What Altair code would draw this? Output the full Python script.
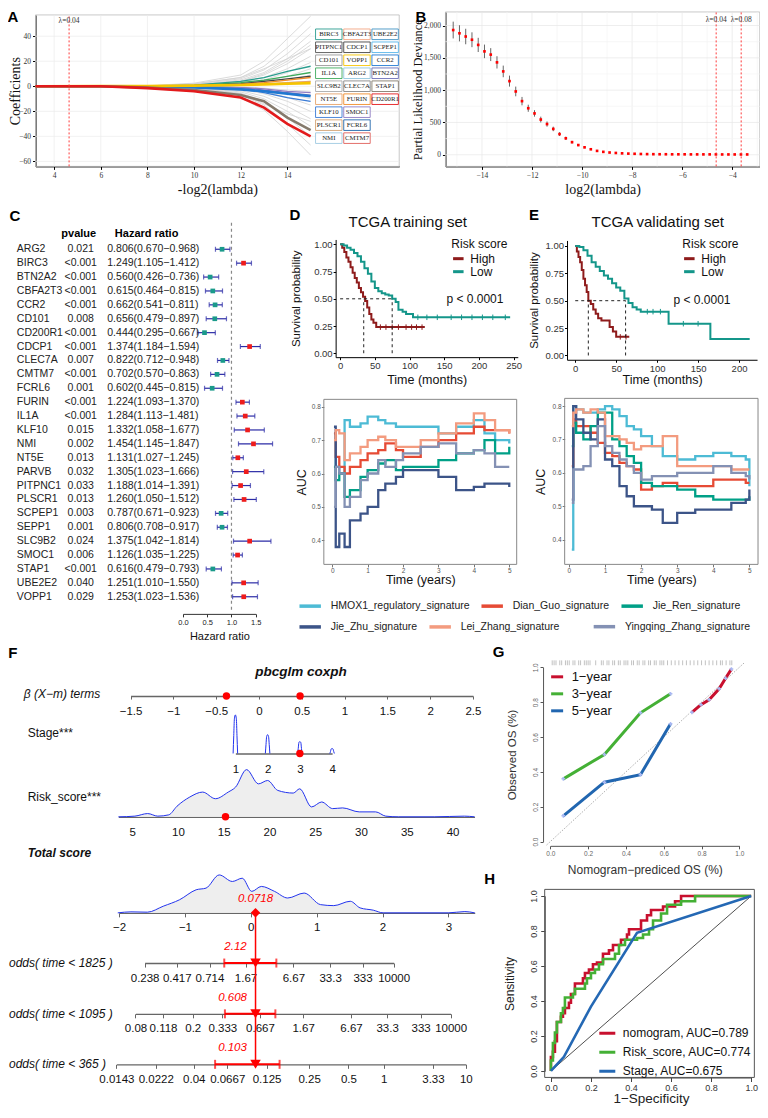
import json
import altair as alt
import pandas as pd

W, H = 752, 1101
SERIF = "Liberation Serif"
SANS = "Liberation Sans"


def X(r):
    return round((r - 2) * 0.983, 2)


def Y(r):
    return round((r - 3) * 0.99, 2)


ONE = pd.DataFrame({"k": [0]})


def sx(dom, a, b, **kw):
    return alt.Scale(domain=dom, range=[X(a), X(b)], nice=False, zero=False, **kw)


def sy(dom, bottom, top, **kw):
    return alt.Scale(domain=dom, range=[Y(bottom), Y(top)], nice=False, zero=False, **kw)


BASE_AX = dict(grid=False, labelFlush=False, labelOverlap=False, domainColor="black",
               tickColor="black", labelColor="#222222", titleColor="#111111",
               titleFontWeight="normal", labelFont=SANS, titleFont=SANS)


def ax_b(yref, title_ref=None, **kw):
    d = dict(BASE_AX)
    d.update(orient="bottom", offset=round(Y(yref) - H, 2))
    if title_ref is not None:
        d.update(titleY=round(Y(title_ref) - Y(yref), 2), titleBaseline="middle")
    d.update(kw)
    return alt.Axis(**d)


def ax_l(xref, title_ref=None, **kw):
    d = dict(BASE_AX)
    d.update(orient="left", offset=round(-X(xref), 2))
    if title_ref is not None:
        d.update(titleX=round(X(title_ref) - X(xref), 2), titleBaseline="middle")
    d.update(kw)
    return alt.Axis(**d)


def note(text, xr, yr, size=11, align="center", baseline="middle", **props):
    return alt.Chart(pd.DataFrame({"t": [text]})).mark_text(
        fontSize=size, align=align, baseline=baseline, **props).encode(
        x=alt.value(X(xr)), y=alt.value(Y(yr)), text="t:N")


# ======================= DATA =======================
# ---- A: LASSO coefficient paths ----
A_knots = [3.2, 6, 8, 10, 12, 13, 14, 15]
A_grey = [
    [0, 0, 0.4, 2.5, 9, 20, 38, 56],
    [0, 0, 0.3, 2, 7, 16, 31, 48],
    [0, 0, 0.2, 1.5, 6, 13, 26, 42],
    [0, 0, 0.2, 1.2, 5, 11, 22, 36],
    [0, 0, 0.1, 1, 4, 9, 18, 30],
    [0, 0, 0.1, 0.8, 3, 7, 14, 24],
    [0, 0, 0.1, 0.6, 2.5, 5, 11, 19],
    [0, 0, 0, 0.4, 1.8, 4, 8, 14],
    [0, 0, 0, 0.3, 1.2, 3, 5, 9],
    [0, 0, 0, 0.2, 0.6, 1.5, 3, 4],
    [0, 0, 0, -0.2, -0.6, -1.5, -3, -4],
    [0, 0, 0, -0.3, -1.2, -3, -6, -10],
    [0, 0, 0, -0.4, -1.8, -4, -9, -15],
    [0, 0, -0.1, -0.6, -2.5, -6, -12, -20],
    [0, 0, -0.1, -0.8, -3.5, -8, -16, -26],
    [0, 0, -0.2, -1, -4.5, -10, -20, -32],
    [0, 0, -0.2, -1.3, -5.5, -12, -25, -40],
    [0, 0, -0.3, -1.8, -7, -15, -30, -47],
    [0, 0, -0.4, -2.5, -9, -19, -36, -55],
    [0, 0, 0.2, 1.8, 7, 14, 22, 30],
    [0, 0, -0.2, -1.5, -6, -14, -22, -28],
    [0, 0, 0.1, 0.9, 4, 10, 20, 33],
]
A_col_genes = ["BIRC3", "IL1A", "CDCP1", "FURIN", "NT5E", "BTN2A2", "SMOC1", "KLF10",
               "CCR2", "VOPP1", "STAP1", "CD200R1"]
A_col_vals = [
    [0, 0, 0.2, 1, 4, 7, 12, 16],
    [0, 0, 0.1, 0.8, 3, 5, 8, 11],
    [0, 0, 0.1, 0.5, 2, 4, 6, 8],
    [0, 0, 0, 0.4, 1.5, 3, 5, 7],
    [0, 0, 0, 0.3, 1, 2, 3, 4],
    [0, 0, 0, -0.3, -1, -3, -5, -7],
    [0, 0, 0, -0.2, -1, -2, -4, -5],
    [0, 0, -0.1, -0.5, -2, -5, -9, -12],
    [0, -0.1, -0.3, -1, -2.5, -4, -6, -8],
    [0, 0.1, 0.2, 0.5, 1, 1.5, 2, 2.5],
    [0, 0, -1, -3, -7, -12, -25, -35],
    [0, 0, -1.5, -4, -9, -17, -30, -40],
]
A_col_colors = ["#2A9D8F", "#3DAA5C", "#444444", "#F08C2A", "#E5A36B", "#6C6FB8",
                "#8E7CC3", "#3A7BD5", "#1F78D1", "#F5C400", "#857A6C", "#E31A1C"]
A_thick = ["CCR2", "VOPP1", "STAP1", "CD200R1"]
A_lab_names = ["BIRC3", "CBFA2T3", "UBE2E2", "PITPNC1", "CDCP1", "SCPEP1", "CD101", "VOPP1",
               "CCR2", "IL1A", "ARG2", "BTN2A2", "SLC9B2", "CLEC7A", "STAP1", "NT5E", "FURIN",
               "CD200R1", "KLF10", "SMOC1", "PLSCR1", "FCRL6", "NMI", "CMTM7"]
A_lab_row = [1, 1, 1, 2, 2, 2, 3, 3, 3, 4, 4, 4, 5, 5, 5, 6, 6, 6, 7, 7, 8, 8, 9, 9]
A_lab_col = [1, 2, 3, 1, 2, 3, 1, 2, 3, 1, 2, 3, 1, 2, 3, 1, 2, 3, 1, 2, 1, 2, 1, 2]
A_lab_colors = ["#2A9D8F", "#F4A582", "#4393C3", "#555555", "#444444", "#56B4E9", "#999999",
                "#F5C400", "#1F78D1", "#3DAA5C", "#92C5DE", "#6C6FB8", "#AAAAAA", "#888888",
                "#857A6C", "#E5A36B", "#F08C2A", "#E31A1C", "#3A7BD5", "#8E7CC3", "#D4A373",
                "#2166AC", "#9ECAE1", "#E0605A"]

# ---- B: partial likelihood deviance ----
B_x = [-15.15, -14.9, -14.65, -14.4, -14.15, -13.9, -13.65, -13.4, -13.15, -12.9, -12.65, -12.4,
       -12.15, -11.9, -11.65, -11.4, -11.15, -10.9, -10.65, -10.4, -10.15, -9.9, -9.65, -9.4,
       -9.15, -8.9, -8.65, -8.4, -8.15, -7.9, -7.65, -7.4, -7.15, -6.9, -6.65, -6.4, -6.15, -5.9,
       -5.65, -5.4, -5.15, -4.9, -4.65, -4.4, -4.15, -3.9, -3.65, -3.4]
B_dev = [1930, 1880, 1830, 1780, 1700, 1600, 1550, 1430, 1290, 1140, 980, 830, 720, 640, 545,
         475, 400, 320, 255, 195, 150, 115, 85, 60, 45, 35, 28, 22, 18, 15, 12, 10, 9, 8, 8, 7,
         7, 7, 6, 6, 6, 6, 6, 5, 5, 5, 5, 5]
B_se = [130, 125, 120, 115, 110, 105, 100, 95, 90, 85, 75, 65, 55, 50, 45, 40, 35, 30, 25, 20,
        16, 12, 9, 7, 5, 4, 3, 3, 2, 2, 2, 1, 1, 1, 1, 1, 1, 1, 1, 1, 1, 1, 1, 1, 1, 1, 1, 1]
B_lambda = [-4.64, -3.64]
B_lambda_lab = ["λ=0.04", "λ=0.08"]

# ---- C: forest plot ----
C_genes = ["ARG2", "BIRC3", "BTN2A2", "CBFA2T3", "CCR2", "CD101", "CD200R1", "CDCP1", "CLEC7A",
           "CMTM7", "FCRL6", "FURIN", "IL1A", "KLF10", "NMI", "NT5E", "PARVB", "PITPNC1",
           "PLSCR1", "SCPEP1", "SEPP1", "SLC9B2", "SMOC1", "STAP1", "UBE2E2", "VOPP1"]
C_p = ["0.021", "<0.001", "<0.001", "<0.001", "<0.001", "0.008", "<0.001", "<0.001", "0.007",
       "<0.001", "0.001", "<0.001", "<0.001", "0.015", "0.002", "0.013", "0.032", "0.033",
       "0.013", "0.003", "0.001", "0.024", "0.006", "<0.001", "0.040", "0.029"]
C_hr = [0.806, 1.249, 0.560, 0.615, 0.662, 0.656, 0.444, 1.374, 0.822, 0.702, 0.602, 1.224,
        1.284, 1.332, 1.454, 1.131, 1.305, 1.188, 1.260, 0.787, 0.806, 1.375, 1.126, 0.616,
        1.251, 1.253]
C_lo = [0.670, 1.105, 0.426, 0.464, 0.541, 0.479, 0.295, 1.184, 0.712, 0.570, 0.445, 1.093,
        1.113, 1.058, 1.145, 1.027, 1.023, 1.014, 1.050, 0.671, 0.708, 1.042, 1.035, 0.479,
        1.010, 1.023]
C_hi = [0.968, 1.412, 0.736, 0.815, 0.811, 0.897, 0.667, 1.594, 0.948, 0.863, 0.815, 1.370,
        1.481, 1.677, 1.847, 1.245, 1.666, 1.391, 1.512, 0.923, 0.917, 1.814, 1.225, 0.793,
        1.550, 1.536]

# ---- D / E: Kaplan-Meier ----
D_hi_t = [0, 3, 6, 9, 12, 15, 18, 21, 24, 27, 30, 33, 36, 39, 42, 45, 48, 52, 122]
D_hi_s = [1.0, 0.97, 0.93, 0.88, 0.84, 0.79, 0.74, 0.69, 0.65, 0.60, 0.56, 0.52, 0.48, 0.42,
          0.36, 0.31, 0.28, 0.24, 0.24]
D_lo_t = [0, 5, 10, 15, 20, 25, 30, 35, 40, 45, 50, 55, 60, 65, 70, 75, 80, 84, 90, 95, 105, 245]
D_lo_s = [1.0, 0.99, 0.97, 0.95, 0.92, 0.89, 0.84, 0.78, 0.73, 0.66, 0.60, 0.57, 0.55, 0.54,
          0.53, 0.50, 0.47, 0.40, 0.38, 0.36, 0.33, 0.33]
D_cens_hi = [58, 66, 75, 84, 95, 103, 110, 118]
D_cens_lo = [112, 125, 140, 160, 175, 190, 205, 220, 238]
D_median = [34, 75]
E_hi_t = [0, 2, 4, 6, 8, 10, 12, 14, 16, 19, 22, 25, 28, 32, 38, 42, 46, 50, 66]
E_hi_s = [1.0, 0.95, 0.90, 0.85, 0.78, 0.70, 0.64, 0.58, 0.50, 0.47, 0.42, 0.38, 0.34, 0.32,
          0.32, 0.26, 0.22, 0.17, 0.17]
E_lo_t = [0, 5, 10, 15, 20, 25, 30, 35, 40, 45, 50, 55, 60, 65, 70, 75, 80, 114, 165, 213]
E_lo_s = [1.0, 0.99, 0.96, 0.91, 0.85, 0.81, 0.77, 0.73, 0.70, 0.66, 0.62, 0.59, 0.52, 0.48,
          0.44, 0.42, 0.40, 0.29, 0.15, 0.15]
E_cens_hi = [55, 62]
E_cens_lo = [88, 95, 104, 132, 150]
E_median = [16, 61.5]

# ---- D / E: time-dependent AUC ----
SIGS = ["HMOX1_regulatory_signature", "Dian_Guo_signature", "Jie_Ren_signature",
        "Jie_Zhu_signature", "Lei_Zhang_signature", "Yingqing_Zhang_signature"]
SIG_COLORS = ["#4DBBD5", "#E64B35", "#00A087", "#3C5488", "#F39B7F", "#8491B4"]
DA_t = [0.05, 0.1, 0.2, 0.35, 0.5, 0.8, 1.0, 1.3, 1.5, 1.8, 2.0, 2.5, 3.0, 3.5, 4.0, 4.3, 4.6, 5.0]
DA_auc = [
    [0.72, 0.62, 0.60, 0.76, 0.74, 0.75, 0.77, 0.76, 0.75, 0.74, 0.74, 0.74, 0.72, 0.74, 0.76, 0.72, 0.70, 0.69],
    [0.72, 0.65, 0.62, 0.60, 0.62, 0.64, 0.66, 0.67, 0.69, 0.67, 0.65, 0.68, 0.70, 0.72, 0.74, 0.73, 0.73, 0.72],
    [0.62, 0.58, 0.60, 0.53, 0.55, 0.59, 0.61, 0.63, 0.64, 0.61, 0.62, 0.62, 0.64, 0.66, 0.67, 0.70, 0.66, 0.68],
    [0.74, 0.38, 0.42, 0.38, 0.46, 0.48, 0.50, 0.55, 0.57, 0.59, 0.61, 0.61, 0.59, 0.55, 0.56, 0.57, 0.57, 0.56],
    [0.70, 0.73, 0.72, 0.64, 0.66, 0.68, 0.70, 0.71, 0.70, 0.68, 0.68, 0.70, 0.72, 0.75, 0.78, 0.76, 0.73, 0.72],
    [0.50, 0.62, 0.60, 0.50, 0.53, 0.58, 0.60, 0.64, 0.62, 0.64, 0.66, 0.68, 0.69, 0.66, 0.67, 0.66, 0.62, 0.62],
]
EA_t = [0.08, 0.12, 0.2, 0.4, 0.6, 0.8, 1.0, 1.2, 1.4, 1.6, 1.8, 2.0, 2.3, 2.6, 3.0, 3.5, 4.0, 4.5, 4.9, 5.0]
EA_auc = [
    [0.37, 0.80, 0.79, 0.78, 0.78, 0.79, 0.80, 0.79, 0.77, 0.74, 0.73, 0.71, 0.68, 0.65, 0.64, 0.65, 0.66, 0.65, 0.64, 0.56],
    [0.62, 0.76, 0.74, 0.74, 0.72, 0.69, 0.66, 0.65, 0.63, 0.62, 0.61, 0.55, 0.56, 0.57, 0.56, 0.56, 0.58, 0.58, 0.57, 0.57],
    [0.68, 0.75, 0.72, 0.70, 0.74, 0.78, 0.78, 0.70, 0.68, 0.65, 0.63, 0.57, 0.56, 0.56, 0.55, 0.53, 0.52, 0.52, 0.52, 0.53],
    [0.52, 0.80, 0.76, 0.72, 0.70, 0.76, 0.64, 0.62, 0.56, 0.53, 0.50, 0.50, 0.49, 0.45, 0.48, 0.49, 0.49, 0.51, 0.52, 0.55],
    [0.74, 0.78, 0.79, 0.78, 0.79, 0.78, 0.71, 0.71, 0.70, 0.69, 0.67, 0.68, 0.68, 0.71, 0.62, 0.62, 0.62, 0.61, 0.61, 0.61],
    [0.51, 0.61, 0.61, 0.62, 0.68, 0.74, 0.68, 0.66, 0.64, 0.62, 0.60, 0.58, 0.59, 0.59, 0.60, 0.60, 0.62, 0.60, 0.59, 0.58],
]

# ---- F: nomogram ----
F_beta_ticks = [-1.5, -1, -0.5, 0, 0.5, 1, 1.5, 2, 2.5]
F_beta_pts = [-0.38, 0.48]
F_hump_stage = [1] * 7 + [2] * 7 + [3] * 7 + [4] * 7
F_hump_x = [0.93, 0.95, 0.97, 1.0, 1.03, 1.05, 1.07, 1.93, 1.95, 1.97, 2.0, 2.03, 2.05, 2.07,
            2.93, 2.95, 2.97, 3.0, 3.03, 3.05, 3.07, 3.93, 3.95, 3.97, 4.0, 4.03, 4.05, 4.07]
F_hump_h = [0, 18, 35, 39, 35, 18, 0, 0, 9, 17, 19, 17, 9, 0, 0, 5, 11, 12, 11, 5, 0,
            0, 2, 4.5, 5, 4.5, 2, 0]
F_stage_pt = 3
F_risk_x = [3.5, 5.3, 6.7, 7.8, 9.0, 9.9, 11.3, 12.7, 14.1, 15.5, 16.3, 17.5, 18.8, 19.8, 20.9,
            22.6, 23.3, 24.6, 25.7, 26.9, 28.0, 29.8, 31.6, 32.7, 34.1, 38.0, 41.3, 42.4]
F_risk_h = [0, 0.7, 3.3, 0.7, 2, 10.7, 20, 25, 18.3, 25, 30, 47.7, 33.3, 36.7, 26.7, 24, 28.3,
            10, 15, 8.3, 9, 5, 5, 0.7, 0, 0, 0.7, 0]
F_risk_pt = 15.2
F_tot_x = [-2.02, -1.82, -1.57, -1.33, -1.08, -0.83, -0.68, -0.48, -0.28, -0.13, 0.015, 0.16,
           0.36, 0.56, 0.81, 1.06, 1.26, 1.51, 1.66, 1.86, 2.01, 3.0, 3.25, 3.4]
F_tot_h = [0, 1, 0.7, 6.7, 13.3, 23.3, 25, 38.3, 31.7, 35, 21.7, 26.7, 21.7, 15, 20, 8.3, 7.3,
           11.7, 5, 2.7, 0, 0, 1.3, 0]
F_point = 0.0718
F_odds_names = ["odds( time < 1825 )", "odds( time < 1095 )", "odds( time < 365 )"]
F_odds_pos = [
    [-1.612, -1.124, -0.627, -0.08, 0.646, 1.204, 1.697, 2.169],
    [-1.751, -1.333, -0.881, -0.433, 0.139, 0.795, 1.522, 2.07, 2.578, 3.034],
    [-2.04, -1.443, -0.866, -0.358, 0.239, 0.885, 1.482, 2.019, 2.766, 3.264],
]
F_odds_lab = [
    ["0.238", "0.417", "0.714", "1.67", "6.67", "33.3", "333", "10000"],
    ["0.08", "0.118", "0.2", "0.333", "0.667", "1.67", "6.67", "33.3", "333", "10000"],
    ["0.0143", "0.0222", "0.04", "0.0667", "0.125", "0.25", "0.5", "1", "3.33", "10"],
]
F_ci_lo = [-0.403, -0.393, -0.542]
F_ci_hi = [0.388, 0.373, 0.437]
F_odds_val = ["2.12", "0.608", "0.103"]

# ---- G: calibration ----
G_names = ["1−year", "3−year", "5−year"]
G_x = [[0.749, 0.797, 0.84, 0.893, 0.927, 0.958],
       [0.069, 0.286, 0.477, 0.636],
       [0.069, 0.286, 0.477, 0.636]]
G_y = [[0.742, 0.786, 0.814, 0.877, 0.9375, 0.99],
       [0.36, 0.50, 0.739, 0.848],
       [0.148, 0.341, 0.384, 0.676]]
G_rug = [0.01, 0.02, 0.03, 0.05, 0.06, 0.08, 0.09, 0.1, 0.12, 0.13, 0.15, 0.16, 0.18, 0.19, 0.2,
         0.21, 0.24, 0.27, 0.28, 0.3, 0.31, 0.33, 0.34, 0.36, 0.37, 0.39, 0.4, 0.41, 0.43, 0.44,
         0.46, 0.47, 0.49, 0.5, 0.52, 0.53, 0.55, 0.56, 0.58, 0.59, 0.6, 0.62, 0.64, 0.66, 0.68,
         0.7, 0.72, 0.74, 0.76, 0.78, 0.8, 0.82, 0.84, 0.86, 0.88, 0.9, 0.91, 0.93, 0.95, 0.96]

# ---- H: ROC ----
H_names = ["nomogram, AUC=0.789", "Risk_score, AUC=0.774", "Stage, AUC=0.675"]
H_nom_x = [0, 0, 0.01, 0.01, 0.02, 0.02, 0.03, 0.03, 0.05, 0.05, 0.06, 0.06, 0.07, 0.07, 0.09,
           0.09, 0.1, 0.1, 0.12, 0.12, 0.16, 0.16, 0.17, 0.17, 0.19, 0.19, 0.21, 0.21, 0.23,
           0.23, 0.26, 0.26, 0.29, 0.29, 0.31, 0.31, 0.35, 0.35, 0.38, 0.38, 0.39, 0.39, 0.45,
           0.45, 0.48, 0.48, 0.5, 0.5, 0.56, 0.56, 0.62, 0.62, 0.65, 0.65, 1.0]
H_nom_y = [0, 0.08, 0.08, 0.11, 0.11, 0.17, 0.17, 0.28, 0.28, 0.31, 0.31, 0.33, 0.33, 0.36, 0.36,
           0.39, 0.39, 0.44, 0.44, 0.5, 0.5, 0.53, 0.53, 0.56, 0.56, 0.58, 0.58, 0.61, 0.61,
           0.62, 0.62, 0.67, 0.67, 0.69, 0.69, 0.72, 0.72, 0.75, 0.75, 0.78, 0.78, 0.81, 0.81,
           0.86, 0.86, 0.89, 0.89, 0.92, 0.92, 0.94, 0.94, 0.97, 0.97, 1.0, 1.0]
H_risk_x = [0, 0, 0.01, 0.01, 0.02, 0.02, 0.03, 0.03, 0.05, 0.05, 0.06, 0.06, 0.07, 0.07, 0.11,
            0.11, 0.12, 0.12, 0.17, 0.17, 0.18, 0.18, 0.2, 0.2, 0.22, 0.22, 0.24, 0.24, 0.26,
            0.26, 0.32, 0.32, 0.34, 0.34, 0.37, 0.37, 0.43, 0.43, 0.46, 0.46, 0.49, 0.49, 0.51,
            0.51, 0.55, 0.55, 0.58, 0.58, 0.65, 0.65, 0.72, 0.72, 1.0]
H_risk_y = [0, 0.06, 0.06, 0.16, 0.16, 0.22, 0.22, 0.28, 0.28, 0.33, 0.33, 0.36, 0.36, 0.42,
            0.42, 0.44, 0.44, 0.47, 0.47, 0.5, 0.5, 0.53, 0.53, 0.56, 0.56, 0.58, 0.58, 0.61,
            0.61, 0.64, 0.64, 0.67, 0.67, 0.72, 0.72, 0.75, 0.75, 0.76, 0.76, 0.78, 0.78, 0.81,
            0.81, 0.86, 0.86, 0.9, 0.9, 0.95, 0.95, 0.97, 0.97, 1.0, 1.0]
H_stage_x = [0, 0.065, 0.2, 0.43, 1.0]
H_stage_y = [0, 0.081, 0.368, 0.79, 1.0]

layers = []

# ======================= PANEL A =======================
A_xs = sx([3.2, 18.8], 30, 400)
A_ys = sy([-64, 57], 163, 10)
A_ax = dict(labelFont=SERIF, labelFontSize=7.5, titleFont=SERIF, titleFontSize=14, tickSize=3,
            labelPadding=2, labelColor="#333333")
rows = []
for i, vals in enumerate(A_grey):
    for k, v in zip(A_knots, vals):
        rows.append({"id": i, "x": k, "y": v})
A_grey_df = pd.DataFrame(rows)
rows = []
for g, vals in zip(A_col_genes, A_col_vals):
    for k, v in zip(A_knots, vals):
        rows.append({"g": g, "x": k, "y": v})
A_col_df = pd.DataFrame(rows)
A_cscale = alt.Scale(domain=A_col_genes, range=A_col_colors)

layers += [
    alt.Chart(ONE).mark_rect(fillOpacity=0, stroke="#BBBBBB", strokeWidth=0.8).encode(
        x=alt.XDatum(3.2, scale=A_xs, axis=None), x2=alt.datum(18.8),
        y=alt.YDatum(-64, scale=A_ys, axis=None), y2=alt.datum(57)),
    alt.Chart(pd.DataFrame({"v": [4, 6, 8, 10, 12, 14]})).mark_rule(
        color="#EBEBEB", strokeWidth=0.7).encode(
        x=alt.X("v:Q", scale=A_xs, axis=None), y=alt.YDatum(-64, scale=A_ys, axis=None),
        y2=alt.datum(57)),
    alt.Chart(pd.DataFrame({"v": [-60, -40, -20, 0, 20, 40]})).mark_rule(
        color="#EBEBEB", strokeWidth=0.7).encode(
        y=alt.Y("v:Q", scale=A_ys, axis=None), x=alt.XDatum(3.2, scale=A_xs, axis=None),
        x2=alt.datum(18.8)),
    alt.Chart(A_grey_df).mark_line(color="#D2D2D2", strokeWidth=0.8).encode(
        x=alt.X("x:Q", scale=A_xs, axis=ax_b(163, 186, values=[4, 6, 8, 10, 12, 14],
                                             title="-log2(lambda)", **A_ax)),
        y=alt.Y("y:Q", scale=A_ys, axis=ax_l(30, 9.5, values=[-60, -40, -20, 0, 20, 40],
                                             title="Coefficients", **A_ax)),
        detail="id:N"),
    alt.Chart(A_col_df[~A_col_df.g.isin(A_thick)]).mark_line(strokeWidth=1.3).encode(
        x=alt.X("x:Q", scale=A_xs, axis=None), y=alt.Y("y:Q", scale=A_ys, axis=None),
        color=alt.Color("g:N", scale=A_cscale, legend=None)),
    alt.Chart(A_col_df[A_col_df.g.isin(A_thick)]).mark_line(strokeWidth=2.6).encode(
        x=alt.X("x:Q", scale=A_xs, axis=None), y=alt.Y("y:Q", scale=A_ys, axis=None),
        color=alt.Color("g:N", scale=A_cscale, legend=None)),
    alt.Chart(ONE).mark_rule(color="#FF3B3B", strokeDash=[2, 2], strokeWidth=1).encode(
        x=alt.XDatum(4.64, scale=A_xs, axis=None), y=alt.YDatum(-64, scale=A_ys, axis=None),
        y2=alt.datum(57)),
    alt.Chart(ONE).mark_text(text="λ=0.04", font=SERIF, fontSize=7.5, color="#333").encode(
        x=alt.XDatum(4.64, scale=A_xs, axis=None), y=alt.YDatum(52, scale=A_ys, axis=None)),
]

# gene label boxes (a grid of 3 columns x 9 rows)
A_lab_df = pd.DataFrame({"g": A_lab_names, "r": A_lab_row, "c": A_lab_col})
A_lxs = sx([0.5, 3.5], 314, 400)
A_lys = alt.Scale(domain=[0.5, 9.5], range=[Y(23), Y(141)], nice=False, zero=False)
BOX = "M-1,-0.4L1,-0.4L1,0.4L-1,0.4Z"
layers += [
    alt.Chart(A_lab_df).mark_point(shape=BOX, size=700, filled=True, fill="white",
                                   strokeWidth=0.9, opacity=1).encode(
        x=alt.X("c:Q", scale=A_lxs, axis=None), y=alt.Y("r:Q", scale=A_lys, axis=None),
        stroke=alt.Stroke("g:N", scale=alt.Scale(domain=A_lab_names, range=A_lab_colors),
                          legend=None)),
    alt.Chart(A_lab_df).mark_text(font=SERIF, fontSize=6.8, color="#222").encode(
        x=alt.X("c:Q", scale=A_lxs, axis=None), y=alt.Y("r:Q", scale=A_lys, axis=None),
        text="g:N"),
]

# ======================= PANEL B =======================
B_xs = sx([-15.46, -2.9], 447, 766.7)
B_ys = sy([-180, 2210], 163, 7)
B_df = pd.DataFrame({"x": B_x, "dev": B_dev, "se": B_se})
B_df["lo"] = B_df.dev - B_df.se
B_df["hi"] = B_df.dev + B_df.se
B_vmaj = [-14, -12, -10, -8, -6, -4]
B_vmin = [-15, -13, -11, -9, -7, -5, -3]
B_hmaj = [0, 500, 1000, 1500, 2000]
B_hmin = [250, 750, 1250, 1750]
layers.append(alt.Chart(ONE).mark_rect(fillOpacity=0, stroke="#BBBBBB", strokeWidth=0.8).encode(
    x=alt.XDatum(-15.46, scale=B_xs, axis=None), x2=alt.datum(-2.9),
    y=alt.YDatum(-180, scale=B_ys, axis=None), y2=alt.datum(2210)))
for vals, col in ((B_vmin, "#F4F4F4"), (B_vmaj, "#E6E6E6")):
    layers.append(alt.Chart(pd.DataFrame({"v": vals})).mark_rule(color=col, strokeWidth=0.7).encode(
        x=alt.X("v:Q", scale=B_xs, axis=None), y=alt.YDatum(-180, scale=B_ys, axis=None),
        y2=alt.datum(2210)))
for vals, col in ((B_hmin, "#F4F4F4"), (B_hmaj, "#E6E6E6")):
    layers.append(alt.Chart(pd.DataFrame({"v": vals})).mark_rule(color=col, strokeWidth=0.7).encode(
        y=alt.Y("v:Q", scale=B_ys, axis=None), x=alt.XDatum(-15.46, scale=B_xs, axis=None),
        x2=alt.datum(-2.9)))
B_lam_df = pd.DataFrame({"v": B_lambda, "t": B_lambda_lab})
layers += [
    alt.Chart(B_df).mark_rule(color="#666666", strokeWidth=1).encode(
        x=alt.X("x:Q", scale=B_xs, axis=ax_b(163, 186, values=B_vmaj, format="d",
                                             title="log2(lambda)", **A_ax)),
        y=alt.Y("lo:Q", scale=B_ys, axis=ax_l(447, 418.3, values=B_hmaj, format=",.0f",
                                              title="Partial Likelihood Deviance",
                                              **dict(A_ax, titleFontSize=12.5))),
        y2="hi:Q"),
    alt.Chart(B_df).mark_square(size=7, color="#FF0000", opacity=1).encode(
        x=alt.X("x:Q", scale=B_xs, axis=None), y=alt.Y("dev:Q", scale=B_ys, axis=None)),
    alt.Chart(B_lam_df).mark_rule(color="#FF3B3B", strokeDash=[2, 2], strokeWidth=1).encode(
        x=alt.X("v:Q", scale=B_xs, axis=None), y=alt.YDatum(-180, scale=B_ys, axis=None),
        y2=alt.datum(2210)),
    alt.Chart(B_lam_df).mark_text(font=SERIF, fontSize=7.5, color="#333").encode(
        x=alt.X("v:Q", scale=B_xs, axis=None), y=alt.YDatum(2090, scale=B_ys, axis=None),
        text="t:N"),
]

# ======================= PANEL C =======================
C_df = pd.DataFrame({"g": C_genes, "p": C_p, "hr": C_hr, "lo": C_lo, "hi": C_hi})
C_df["txt"] = [f"{h:.3f}({l:.3f}\u2212{u:.3f})" for h, l, u in zip(C_hr, C_lo, C_hi)]
C_df["dir"] = ["up" if h > 1 else "down" for h in C_hr]
C_xs = sx([0, 1.5], 180, 254)


def C_y():
    return alt.Y("g:N", scale=alt.Scale(type="point", domain=C_genes,
                                        range=[Y(246.7), Y(597.7)], padding=0), axis=None)


C_tick_df = pd.DataFrame({"v": C_lo + C_hi, "g": C_genes + C_genes})
layers += [
    alt.Chart(ONE).mark_rule(color="#888888", strokeDash=[3, 3], strokeWidth=1.2).encode(
        x=alt.XDatum(1, scale=C_xs, axis=None), y=alt.value(Y(220)), y2=alt.value(Y(612))),
    alt.Chart(C_df).mark_rule(color="#2B2BA6", strokeWidth=1.2).encode(
        x=alt.X("lo:Q", scale=C_xs, axis=ax_b(615, 638.3, values=[0, 0.5, 1, 1.5], format=".1f",
                                              title="Hazard ratio", labelFontSize=7.5,
                                              titleFontSize=11, tickSize=3, labelPadding=2,
                                              domainColor="#333", tickColor="#333")),
        x2="hi:Q", y=C_y()),
    alt.Chart(C_tick_df).mark_tick(orient="vertical", size=5, thickness=1.2,
                                   color="#2B2BA6").encode(
        x=alt.X("v:Q", scale=C_xs, axis=None), y=C_y()),
    alt.Chart(C_df).mark_square(size=22, opacity=1).encode(
        x=alt.X("hr:Q", scale=C_xs, axis=None), y=C_y(),
        color=alt.Color("dir:N", scale=alt.Scale(domain=["up", "down"],
                                                 range=["#EE1C1C", "#1A9A8A"]), legend=None)),
    alt.Chart(C_df).mark_text(align="left", fontSize=10.5, color="#222").encode(
        x=alt.value(X(11)), y=C_y(), text="g:N"),
    alt.Chart(C_df).mark_text(align="center", fontSize=10.5, color="#222").encode(
        x=alt.value(X(76)), y=C_y(), text="p:N"),
    alt.Chart(C_df).mark_text(align="left", fontSize=10.5, color="#222").encode(
        x=alt.value(X(103)), y=C_y(), text="txt:N"),
    note("pvalue", 74, 231, size=11, fontWeight="bold"),
    note("Hazard ratio", 143, 231, size=11, fontWeight="bold"),
]

# ======================= PANELS D/E: KM =======================
KM_scale = alt.Scale(domain=["High", "Low"], range=["#8E1B1B", "#14968A"])


def km_panel(hi_t, hi_s, lo_t, lo_s, cens_hi, cens_lo, med, xs, ys, xaxis_y, yaxis_x,
             xtitle_y, ytitle_x, xvals, legend_xy, ptxt_xy):
    df = pd.DataFrame({"t": hi_t + lo_t, "s": hi_s + lo_s,
                       "grp": ["High"] * len(hi_t) + ["Low"] * len(lo_t)})

    def surv_at(ts, ss, t):
        v = ss[0]
        for a, b in zip(ts, ss):
            if a <= t:
                v = b
        return v

    cdf = pd.DataFrame({
        "t": cens_hi + cens_lo,
        "s": [surv_at(hi_t, hi_s, c) for c in cens_hi] + [surv_at(lo_t, lo_s, c) for c in cens_lo],
        "grp": ["High"] * len(cens_hi) + ["Low"] * len(cens_lo)})
    kax = dict(labelFontSize=9.5, titleFontSize=11.5, tickSize=2.5, labelPadding=1,
               labelColor="#333")
    lines = alt.Chart(df).mark_line(interpolate="step-after", strokeWidth=2).encode(
        x=alt.X("t:Q", scale=xs, axis=ax_b(xaxis_y, xtitle_y, values=xvals, format="d",
                                           title="Time (months)", **dict(kax, titleFontSize=12.5))),
        y=alt.Y("s:Q", scale=ys, axis=ax_l(yaxis_x, ytitle_x, values=[0, 0.25, 0.5, 0.75, 1],
                                           format=".2f", title="Survival probability", **kax)),
        color=alt.Color("grp:N", scale=KM_scale, legend=alt.Legend(
            title="Risk score", orient="none", legendX=legend_xy[0], legendY=legend_xy[1],
            titleFontSize=12, titleFont=SANS, titleFontWeight="normal", titleColor="#111",
            labelFontSize=12, labelFont=SANS, labelColor="#111", symbolType="stroke",
            symbolStrokeWidth=3, symbolSize=110, rowPadding=0, titlePadding=1,
            labelOffset=5)))
    cens = alt.Chart(cdf).mark_point(shape="M0,-1L0,1", size=30, strokeWidth=1, opacity=1).encode(
        x=alt.X("t:Q", scale=xs, axis=None), y=alt.Y("s:Q", scale=ys, axis=None),
        color=alt.Color("grp:N", scale=KM_scale, legend=None))
    mdf = pd.DataFrame({"m": med})
    hdash = alt.Chart(ONE).mark_rule(color="#222", strokeDash=[3, 3], strokeWidth=1).encode(
        x=alt.XDatum(0, scale=xs, axis=None), x2=alt.datum(max(med)),
        y=alt.YDatum(0.5, scale=ys, axis=None))
    vdash = alt.Chart(mdf).mark_rule(color="#222", strokeDash=[3, 3], strokeWidth=1).encode(
        x=alt.X("m:Q", scale=xs, axis=None), y=alt.YDatum(0, scale=ys, axis=None),
        y2=alt.datum(0.5))
    return [lines, cens, hdash, vdash,
            note("p < 0.0001", ptxt_xy[0], ptxt_xy[1], size=12, color="#111")]


layers += km_panel(D_hi_t, D_hi_s, D_lo_t, D_lo_s, D_cens_hi, D_cens_lo, D_median,
                   sx([-6.5, 256], 335.3, 520.6), sy([-0.036, 1.045], 355.7, 236.8),
                   355.7, 335.3, 378.3, 295.3, [0, 50, 100, 150, 200, 250],
                   (X(453), Y(236)), (477, 297))
layers += km_panel(E_hi_t, E_hi_s, E_lo_t, E_lo_s, E_cens_hi, E_cens_lo, E_median,
                   sx([-10, 222], 570.7, 764), sy([-0.039, 1.05], 358.3, 237.8),
                   358.3, 570.7, 378.3, 537.3, [0, 50, 100, 150, 200],
                   (X(688), Y(236)), (708, 298))
layers.append(note("TCGA training set", 408.7, 219, size=15, color="#111"))
layers.append(note("TCGA validating set", 663, 219, size=15, color="#111"))

# ======================= PANELS D/E: AUC =======================
SIG_scale = alt.Scale(domain=SIGS, range=SIG_COLORS)
DA_xs = sx([-0.236, 5.21], 323.3, 519.5)
DA_ys = sy([0.328, 0.822], 565, 398.3)
EA_xs = sx([-0.118, 5.24], 568.3, 765)
EA_ys = sy([0.326, 0.823], 565, 397.3)


def auc_panel(ts, aucs, xs, ys, box, axis_x, axis_y, ytitle_x):
    rows = []
    for s, vals in zip(SIGS, aucs):
        for t, v in zip(ts, vals):
            rows.append({"sig": s, "t": t, "auc": v})
    df = pd.DataFrame(rows)
    aax = dict(labelFontSize=6.5, labelColor="#555", titleFontSize=12.5, tickSize=2.5,
               labelPadding=1, domain=False, tickColor="#777")
    frame = alt.Chart(ONE).mark_rect(fillOpacity=0, stroke="#888888", strokeWidth=1).encode(
        x=alt.XDatum(box[0], scale=xs, axis=None), x2=alt.datum(box[1]),
        y=alt.YDatum(box[2], scale=ys, axis=None), y2=alt.datum(box[3]))
    lines = alt.Chart(df).mark_line(interpolate="step-after", strokeWidth=2.3).encode(
        x=alt.X("t:Q", scale=xs, axis=ax_b(axis_y, 580.5, values=[0, 1, 2, 3, 4, 5],
                                           format="d", title="Time (years)", **aax)),
        y=alt.Y("auc:Q", scale=ys, axis=ax_l(axis_x, ytitle_x, values=[0.4, 0.5, 0.6, 0.7, 0.8],
                                             format=".1f", title="AUC", **aax)),
        color=alt.Color("sig:N", scale=SIG_scale, legend=None), order=alt.Order("t:Q"))
    return [frame, lines]


layers += auc_panel(DA_t, DA_auc, DA_xs, DA_ys, (-0.236, 5.21, 0.328, 0.822), 323.3, 565, 300.3)
layers += auc_panel(EA_t, EA_auc, EA_xs, EA_ys, (-0.118, 5.24, 0.326, 0.823), 568.3, 565, 544)

# shared signature legend laid out as in the reference (rows at y=603 and y=624)
LEG_GROUPS = [(SIGS[:3], SIG_COLORS[:3], 296.7, 603.3),
              (SIGS[3:5], SIG_COLORS[3:5], 296.7, 624.3),
              (SIGS[5:], SIG_COLORS[5:], 596, 624.3)]
for row_sigs, row_cols, lx, ly in LEG_GROUPS:
    dummy = pd.DataFrame({"sig": row_sigs, "t": [0] * len(row_sigs), "auc": [0.6] * len(row_sigs)})
    layers.append(alt.Chart(dummy).mark_line(strokeWidth=3.5).encode(
        x=alt.X("t:Q", scale=DA_xs, axis=None), y=alt.Y("auc:Q", scale=DA_ys, axis=None),
        color=alt.Color("sig:N", scale=alt.Scale(domain=row_sigs, range=row_cols),
                        legend=alt.Legend(title=None, orient="none", direction="horizontal",
                                          legendX=X(lx), legendY=Y(ly - 9),
                                          symbolType="stroke", symbolStrokeWidth=3.5,
                                          symbolSize=460, labelFontSize=10.5, labelFont=SANS,
                                          labelColor="#222", labelOffset=8,
                                          columnPadding=4))))

# ======================= PANEL F: nomogram =======================
F_ax = dict(domainColor="#666666", domainWidth=1.4, tickColor="#666666", labelFontSize=11.5,
            labelColor="#111111", title=None)
RED = "#FF0000"
BLUE = "#2233EE"

Fb_xs = sx([-1.5, 2.5], 126.7, 475)
Fb_ys = sy([0, 1], 698, 688)
layers.append(alt.Chart(pd.DataFrame({"b": F_beta_pts})).mark_circle(size=55, color=RED, opacity=1).encode(
    x=alt.X("b:Q", scale=Fb_xs, axis=ax_b(698, values=F_beta_ticks, format="~g", tickSize=3,
                                          labelPadding=6, **F_ax)),
    y=alt.YDatum(0, scale=Fb_ys, axis=None)))

Fs_xs = sx([1, 4], 233.3, 331.7)
Fs_ys = sy([0, 40], 756, 716)
Fs_df = pd.DataFrame({"s": F_hump_stage, "x": F_hump_x, "h": F_hump_h})
layers += [
    alt.Chart(Fs_df).mark_line(color=BLUE, strokeWidth=1, interpolate="monotone").encode(
        x=alt.X("x:Q", scale=Fs_xs, axis=ax_b(756, values=[1, 2, 3, 4], format="d", tickSize=0,
                                              labelPadding=10, **F_ax)),
        y=alt.Y("h:Q", scale=Fs_ys, axis=None), detail="s:N"),
    alt.Chart(pd.DataFrame({"s": [F_stage_pt]})).mark_circle(size=55, color=RED, opacity=1).encode(
        x=alt.X("s:Q", scale=Fs_xs, axis=None), y=alt.YDatum(0, scale=Fs_ys, axis=None)),
]

Fr_xs = sx([3.5, 42.4], 114.3, 476.6)
Fr_ys = sy([0, 50], 820, 770)
Fr_df = pd.DataFrame({"x": F_risk_x, "h": F_risk_h})
layers += [
    alt.Chart(Fr_df).mark_area(color="#EEEEEE", interpolate="monotone").encode(
        x=alt.X("x:Q", scale=Fr_xs, axis=ax_b(820, values=[5, 10, 15, 20, 25, 30, 35, 40],
                                              format="d", tickSize=0, labelPadding=10, **F_ax)),
        y=alt.Y("h:Q", scale=Fr_ys, axis=None)),
    alt.Chart(Fr_df).mark_line(color=BLUE, strokeWidth=1, interpolate="monotone").encode(
        x=alt.X("x:Q", scale=Fr_xs, axis=None), y=alt.Y("h:Q", scale=Fr_ys, axis=None)),
    alt.Chart(pd.DataFrame({"s": [F_risk_pt]})).mark_circle(size=55, color=RED, opacity=1).encode(
        x=alt.X("s:Q", scale=Fr_xs, axis=None), y=alt.YDatum(0, scale=Fr_ys, axis=None)),
]

Ft_xs = sx([-2, 3.4], 115, 476.8)
Ft_ys = sy([0, 40], 917, 877)
Ft_df = pd.DataFrame({"x": F_tot_x, "h": F_tot_h})
layers += [
    alt.Chart(Ft_df).mark_area(color="#EEEEEE", interpolate="monotone").encode(
        x=alt.X("x:Q", scale=Ft_xs, axis=ax_b(917, values=[-2, -1, 0, 1, 2, 3], format="~g",
                                              tickSize=4, labelPadding=5, **F_ax)),
        y=alt.Y("h:Q", scale=Ft_ys, axis=None)),
    alt.Chart(Ft_df).mark_line(color=BLUE, strokeWidth=1, interpolate="monotone").encode(
        x=alt.X("x:Q", scale=Ft_xs, axis=None), y=alt.Y("h:Q", scale=Ft_ys, axis=None)),
    alt.Chart(ONE).mark_rule(color=RED, strokeWidth=1.5).encode(
        x=alt.XDatum(F_point, scale=Ft_xs, axis=None), y=alt.YDatum(0, scale=Ft_ys, axis=None),
        y2=alt.value(Y(1070))),
    alt.Chart(ONE).mark_point(shape="diamond", filled=True, size=90, color=RED, opacity=1).encode(
        x=alt.XDatum(F_point, scale=Ft_xs, axis=None), y=alt.YDatum(0, scale=Ft_ys, axis=None)),
    alt.Chart(pd.DataFrame({"t": [str(F_point)]})).mark_text(
        color=RED, fontStyle="italic", fontSize=11.5, dy=-14).encode(
        x=alt.XDatum(F_point, scale=Ft_xs, axis=None), y=alt.YDatum(0, scale=Ft_ys, axis=None),
        text="t:N"),
]

F_axis_y = [967.7, 1019, 1070]
F_lab_dx = [-20, -23, -23]
for i in range(3):
    pos, lab = F_odds_pos[i], F_odds_lab[i]
    ay = F_axis_y[i]
    xs_o = sx([pos[0], pos[-1]], 249 + 67 * pos[0], 249 + 67 * pos[-1])
    ys_o = sy([0, 1], ay, ay - 10)
    lexpr = f"{json.dumps(lab)}[indexof({json.dumps(pos)}, datum.value)]"
    ci = pd.DataFrame({"lo": [F_ci_lo[i]], "hi": [F_ci_hi[i]]})
    layers += [
        alt.Chart(ci).mark_rule(color=RED, strokeWidth=2).encode(
            x=alt.X("lo:Q", scale=xs_o, axis=ax_b(ay, values=pos, labelExpr=lexpr, tickSize=4,
                                                 labelPadding=5, **F_ax)),
            x2="hi:Q", y=alt.YDatum(0, scale=ys_o, axis=None)),
        alt.Chart(pd.DataFrame({"v": [F_ci_lo[i], F_ci_hi[i]]})).mark_tick(
            orient="vertical", size=9, thickness=2, color=RED).encode(
            x=alt.X("v:Q", scale=xs_o, axis=None), y=alt.YDatum(0, scale=ys_o, axis=None)),
        alt.Chart(ONE).mark_point(shape="triangle-down", filled=True, size=110, color=RED,
                                  opacity=1).encode(
            x=alt.XDatum(F_point, scale=xs_o, axis=None), y=alt.YDatum(0, scale=ys_o, axis=None)),
        alt.Chart(pd.DataFrame({"t": [F_odds_val[i]]})).mark_text(
            color=RED, fontStyle="italic", fontSize=11.5, dx=F_lab_dx[i], dy=-16).encode(
            x=alt.XDatum(F_point, scale=xs_o, axis=None), y=alt.YDatum(0, scale=ys_o, axis=None),
            text="t:N"),
        note(F_odds_names[i], 3, ay, size=12, align="left", fontStyle="italic", color="#111"),
    ]

layers += [
    note("pbcglm coxph", 300, 674, size=13.5, fontWeight="bold", fontStyle="italic",
         color="#111"),
    note("β (X−m) terms", 18, 695.7, size=12, align="left", fontStyle="italic", color="#111"),
    note("Stage***", 22, 735, size=12, align="left", color="#111"),
    note("Risk_score***", 22, 800, size=12, align="left", color="#111"),
    note("Total score", 22, 857, size=12, align="left", fontWeight="bold", fontStyle="italic",
         color="#111"),
]

# ======================= PANEL G: calibration =======================
G_xs = sx([0, 1], 553.7, 746)
G_ys = sy([0, 1], 845, 669)
rows = []
for n, xs_, ys_ in zip(G_names, G_x, G_y):
    for a, b in zip(xs_, ys_):
        rows.append({"yr": n, "x": a, "y": b})
G_df = pd.DataFrame(rows)
gax = dict(labelFontSize=6.5, labelColor="#666", titleFontSize=11.5, titleColor="#333",
           tickSize=3, labelPadding=2, domainColor="#555", tickColor="#555")
layers += [
    alt.Chart(pd.DataFrame({"x": [-0.02, 1.03], "y": [-0.02, 1.03]})).mark_line(
        color="#999", strokeDash=[1.5, 1.5], strokeWidth=0.8).encode(
        x=alt.X("x:Q", scale=G_xs, axis=None), y=alt.Y("y:Q", scale=G_ys, axis=None)),
    alt.Chart(pd.DataFrame({"r": G_rug})).mark_rule(color="#999", strokeWidth=0.6).encode(
        x=alt.X("r:Q", scale=G_xs, axis=None), y=alt.YDatum(1.012, scale=G_ys, axis=None),
        y2=alt.datum(1.04)),
    alt.Chart(G_df).mark_line(strokeWidth=3).encode(
        x=alt.X("x:Q", scale=G_xs, axis=ax_b(849.3, 873, values=[0, 0.2, 0.4, 0.6, 0.8, 1],
                                             format=".1f", title="Nomogram−prediced OS (%)",
                                             **dict(gax, titleFontSize=12))),
        y=alt.Y("y:Q", scale=G_ys, axis=ax_l(546.3, 515, values=[0, 0.2, 0.4, 0.6, 0.8, 1],
                                             format=".1f", title="Observed OS (%)",
                                             labelAngle=270, **gax)),
        color=alt.Color("yr:N", scale=alt.Scale(domain=G_names,
                                                range=["#C8102E", "#44B035", "#2166B0"]),
                        legend=alt.Legend(title=None, orient="none", legendX=X(553),
                                          legendY=Y(671), symbolType="stroke",
                                          symbolStrokeWidth=3, symbolSize=144, labelFontSize=13,
                                          labelFont=SANS, labelColor="#111", labelOffset=7,
                                          rowPadding=2))),
    alt.Chart(G_df).mark_point(shape="cross", size=14, filled=True, color="#A9B8F2",
                               opacity=1).encode(
        x=alt.X("x:Q", scale=G_xs, axis=None), y=alt.Y("y:Q", scale=G_ys, axis=None)),
]

# ======================= PANEL H: ROC =======================
H_xs = sx([0, 1], 554.3, 758)
H_ys = sy([0, 1], 1076.7, 900)
rows = []
for n, xs_, ys_ in zip(H_names, [H_nom_x, H_risk_x, H_stage_x], [H_nom_y, H_risk_y, H_stage_y]):
    for i, (a, b) in enumerate(zip(xs_, ys_)):
        rows.append({"m": n, "x": a, "y": b, "i": i})
H_df = pd.DataFrame(rows)
hax = dict(labelFontSize=9, labelColor="#333", titleFontSize=12, titleColor="#222", tickSize=4,
           labelPadding=2, domainColor="#444", tickColor="#444")
layers += [
    alt.Chart(ONE).mark_rect(fillOpacity=0, stroke="#555", strokeWidth=1).encode(
        x=alt.XDatum(-0.031, scale=H_xs, axis=None), x2=alt.datum(1.016),
        y=alt.YDatum(-0.037, scale=H_ys, axis=None), y2=alt.datum(1.038)),
    alt.Chart(pd.DataFrame({"x": [0, 1], "y": [0, 1]})).mark_line(
        color="#222", strokeWidth=0.8).encode(
        x=alt.X("x:Q", scale=H_xs, axis=None), y=alt.Y("y:Q", scale=H_ys, axis=None)),
    alt.Chart(H_df).mark_line(strokeWidth=2.6).encode(
        x=alt.X("x:Q", scale=H_xs, axis=ax_b(1083.3, 1104.5, values=[0, 0.2, 0.4, 0.6, 0.8, 1],
                                             format=".1f", title="1−Specificity",
                                             **dict(hax, titleFontSize=13.5))),
        y=alt.Y("y:Q", scale=H_ys, axis=ax_l(548, 511.7, values=[0, 0.2, 0.4, 0.6, 0.8, 1],
                                             format=".1f", title="Sensitivity", labelAngle=270,
                                             **hax)),
        color=alt.Color("m:N", scale=alt.Scale(domain=H_names,
                                               range=["#C8102E", "#44B035", "#2468B4"]),
                        legend=alt.Legend(title=None, orient="none", legendX=X(602),
                                          legendY=Y(1029), symbolType="stroke",
                                          symbolStrokeWidth=3, symbolSize=256, labelFontSize=12,
                                          labelFont=SANS, labelColor="#111", labelOffset=6,
                                          rowPadding=3)),
        order=alt.Order("i:Q")),
]

# ======================= panel letters =======================
for t, xr, yr in [("A", 7, 12), ("B", 422, 12.5), ("C", 9, 213), ("D", 294, 212),
                  ("E", 537, 212), ("F", 7, 655), ("G", 501, 654), ("H", 492, 883)]:
    layers.append(note(t, xr, yr, size=15, fontWeight="bold", color="#000"))

chart = alt.layer(*layers).resolve_scale(
    x="independent", y="independent", color="independent", stroke="independent",
    shape="independent"
).properties(width=W, height=H, padding=0,
             autosize=alt.AutoSizeParams(type="none")).configure(font=SANS).configure_view(
    stroke="transparent", strokeWidth=0)

chart.save("out.html", embed_options={"renderer": "svg", "actions": False})
